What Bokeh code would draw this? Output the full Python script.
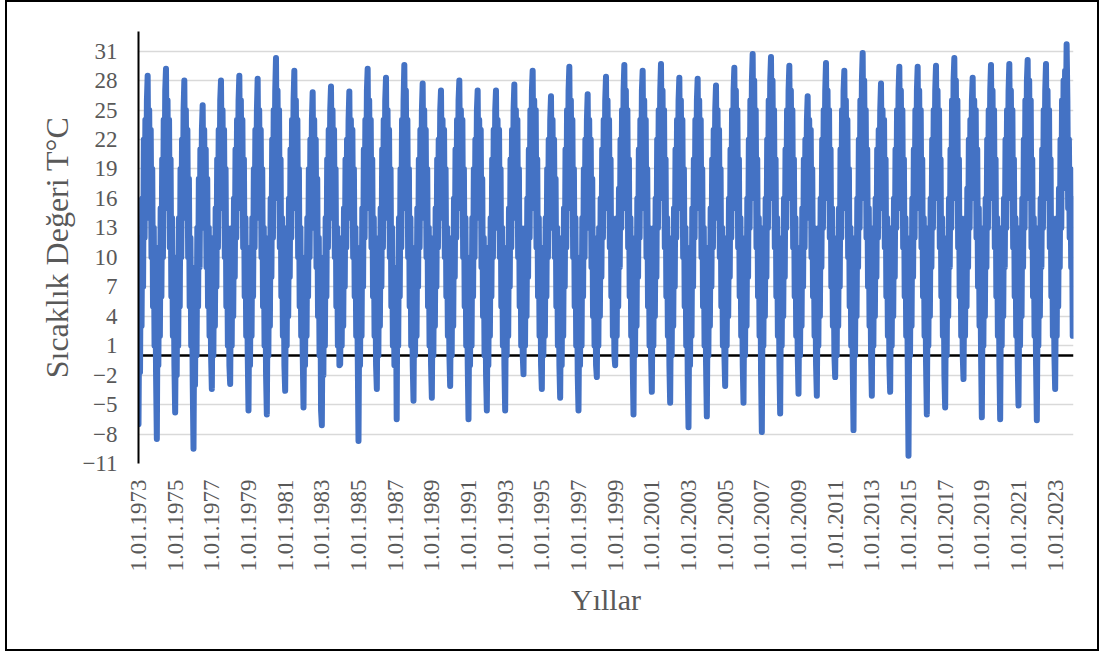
import math
from bokeh.plotting import figure
from bokeh.models import Range1d, FixedTicker, Span, ColumnDataSource
from bokeh.embed import file_html
from bokeh.resources import INLINE

# ---- data: two readings per month (1st / 2nd half), Jan..Dec ----
years = list(range(1973, 2024))
temps = [
    [-7.0, 5, -1.7, 12, 3, 16, 7, 22, 12, 24, 14, 26, 28.5, 17, 25, 14, 23, 10, 19, 5, 13, 1, 9, -2],   # 1973
    [-8.5, 6, -1, 11, 2, 15, 6, 20, 10, 24, 15, 27, 29.2, 18, 26, 15, 24, 11, 20, 6, 14, 2, 10, -1],     # 1974
    [-5.8, 5, -2, 10, 1, 14, 5, 19, 10, 22, 14, 25, 28.0, 16, 25, 14, 23, 10, 18, 5, 12, 1, 8, -3],      # 1975
    [-9.5, 4, -3, 9, 0, 13, 5, 18, 9, 21, 13, 23, 25.5, 15, 23, 13, 21, 9, 18, 5, 13, 2, 9, 0],          # 1976
    [-3.4, 7, 0, 12, 3, 15, 7, 20, 11, 23, 15, 26, 28.0, 17, 25, 15, 23, 10, 19, 5, 13, 1, 9, -1],       # 1977
    [-2.9, 8, 1, 13, 4, 16, 8, 21, 12, 24, 16, 26, 28.5, 18, 26, 15, 24, 11, 20, 6, 14, 2, 10, 0],       # 1978
    [-5.6, 6, -1, 11, 2, 14, 6, 19, 11, 23, 15, 25, 28.2, 17, 25, 14, 23, 10, 19, 5, 13, 1, 9, -2],      # 1979
    [-6.0, 6, 0, 12, 3, 16, 8, 22, 12, 25, 16, 27, 30.3, 18, 27, 16, 25, 11, 20, 6, 14, 2, 10, -1],      # 1980
    [-3.6, 7, 1, 13, 4, 16, 8, 21, 12, 24, 16, 26, 29.0, 18, 26, 15, 24, 10, 19, 5, 13, 2, 9, 0],        # 1981
    [-5.3, 5, -1, 10, 2, 14, 6, 19, 10, 22, 14, 24, 26.8, 16, 24, 13, 22, 9, 18, 4, 12, 0, 8, -5.6],     # 1982
    [-7.1, 5, -2, 10, 1, 14, 6, 20, 11, 23, 15, 25, 27.4, 17, 25, 14, 23, 10, 19, 5, 13, 1, 9, -1],      # 1983
    [-0.9, 7, 1, 12, 3, 15, 7, 20, 11, 22, 14, 24, 26.9, 16, 24, 14, 23, 10, 19, 6, 13, 2, 9, 0],        # 1984
    [-8.7, 5, -1, 11, 2, 15, 7, 21, 12, 24, 16, 27, 29.2, 18, 26, 15, 24, 11, 20, 6, 14, 2, 10, -1],     # 1985
    [-3.4, 7, 0, 12, 3, 15, 7, 21, 11, 24, 15, 26, 28.3, 17, 25, 14, 23, 10, 19, 5, 13, 1, 9, -1],       # 1986
    [2, 7, -6.5, 9, 1, 14, 6, 19, 11, 24, 16, 26, 29.6, 18, 27, 15, 24, 10, 19, 5, 14, 1, 9, -1],        # 1987
    [-4.6, 6, 0, 11, 2, 15, 7, 20, 11, 23, 15, 25, 27.7, 17, 25, 14, 23, 10, 19, 5, 13, 1, 9, -1],       # 1988
    [-4.3, 6, 0, 12, 3, 15, 7, 20, 11, 22, 15, 25, 27.0, 17, 24, 14, 23, 10, 19, 6, 13, 2, 9, 0],        # 1989
    [-3.1, 7, 0, 12, 3, 16, 8, 21, 12, 24, 16, 26, 28.0, 18, 25, 15, 24, 10, 19, 5, 14, 1, 9, -1],       # 1990
    [-6.5, 5, -1, 10, 1, 14, 6, 19, 10, 22, 14, 25, 27.0, 16, 24, 14, 23, 9, 18, 4, 12, 0, 8, -2],       # 1991
    [-5.6, 5, -1, 11, 2, 14, 6, 20, 10, 23, 14, 25, 27.0, 16, 24, 13, 23, 10, 19, 5, 13, 1, 9, -1],      # 1992
    [-5.6, 6, 0, 11, 2, 15, 7, 20, 11, 23, 15, 25, 27.6, 17, 25, 14, 24, 10, 19, 5, 13, 1, 9, 0],        # 1993
    [-1.9, 8, 1, 13, 4, 16, 8, 21, 12, 25, 16, 27, 29.0, 18, 26, 15, 25, 11, 20, 6, 14, 2, 10, -1],      # 1994
    [-3.4, 7, 0, 11, 2, 14, 6, 19, 10, 22, 14, 24, 26.4, 16, 24, 13, 22, 10, 18, 5, 13, 1, 9, -1],       # 1995
    [-4.3, 6, -1, 12, 2, 15, 7, 21, 11, 25, 16, 27, 29.4, 18, 26, 15, 24, 10, 19, 5, 14, 1, 9, -2],      # 1996
    [-5.6, 5, -1, 10, 1, 14, 6, 19, 10, 22, 14, 24, 26.6, 16, 24, 13, 22, 9, 18, 4, 12, 1, 8, -1],       # 1997
    [-2.2, 8, 1, 13, 4, 16, 8, 21, 12, 24, 16, 26, 28.4, 18, 26, 15, 24, 11, 20, 6, 14, 2, 10, 0],       # 1998
    [-1.0, 8, 2, 14, 5, 17, 9, 22, 13, 25, 16, 27, 29.6, 18, 27, 15, 25, 11, 20, 6, 14, 2, 10, -1],      # 1999
    [-6.0, 6, 0, 12, 3, 16, 8, 21, 12, 24, 16, 27, 29.0, 18, 26, 15, 24, 10, 19, 5, 13, 1, 9, 0],        # 2000
    [-3.7, 7, 1, 13, 4, 16, 8, 22, 13, 25, 17, 27, 29.7, 19, 27, 16, 25, 11, 20, 6, 14, 2, 10, -1],      # 2001
    [-4.8, 6, 0, 12, 3, 15, 7, 21, 12, 24, 16, 26, 28.3, 18, 26, 15, 24, 10, 19, 5, 13, 1, 9, -2],       # 2002
    [-7.3, 5, -1, 11, 2, 15, 7, 20, 12, 24, 16, 26, 28.2, 18, 26, 15, 24, 10, 19, 5, 13, 1, 9, -1],      # 2003
    [-6.2, 5, 0, 11, 3, 15, 7, 20, 11, 23, 15, 25, 27.5, 17, 25, 14, 23, 10, 19, 5, 13, 1, 9, 0],        # 2004
    [-3.1, 7, 1, 12, 4, 16, 8, 21, 12, 25, 16, 27, 29.3, 18, 27, 15, 25, 11, 20, 6, 14, 2, 10, -1],      # 2005
    [-4.8, 6, 0, 12, 3, 16, 8, 22, 13, 26, 17, 28, 30.7, 19, 28, 16, 25, 11, 20, 6, 14, 2, 10, -2],      # 2006
    [-7.8, 6, 1, 13, 4, 16, 8, 22, 13, 26, 17, 28, 30.4, 19, 28, 16, 25, 11, 20, 6, 14, 2, 10, -1],      # 2007
    [-5.9, 6, 1, 12, 4, 16, 8, 21, 13, 25, 16, 27, 29.5, 18, 27, 16, 25, 11, 20, 6, 14, 2, 10, 0],       # 2008
    [-3.9, 6, 0, 11, 3, 15, 7, 20, 11, 22, 15, 24, 26.4, 17, 24, 14, 23, 10, 19, 6, 13, 2, 9, -1],       # 2009
    [-4.1, 7, 1, 13, 4, 16, 9, 22, 13, 25, 17, 27, 29.8, 19, 27, 16, 25, 12, 21, 7, 15, 3, 10, 0],       # 2010
    [-2.2, 7, 0, 12, 3, 15, 7, 21, 12, 25, 16, 27, 29.0, 18, 26, 15, 24, 10, 19, 5, 13, 1, 9, -1],       # 2011
    [-7.6, 5, 0, 12, 4, 16, 9, 22, 13, 26, 17, 28, 30.8, 19, 28, 16, 25, 12, 21, 7, 15, 3, 10, 0],       # 2012
    [-4.1, 7, 1, 13, 4, 16, 8, 21, 12, 23, 16, 25, 27.7, 18, 25, 15, 24, 11, 20, 6, 14, 2, 10, -1],      # 2013
    [-3.7, 7, 1, 13, 4, 16, 8, 21, 13, 25, 16, 27, 29.4, 18, 27, 15, 25, 11, 20, 6, 14, 2, 10, -1],      # 2014
    [-10.2, 5, 0, 12, 3, 16, 8, 21, 12, 25, 16, 27, 29.4, 18, 27, 15, 25, 11, 20, 6, 14, 2, 10, -1],     # 2015
    [-6.0, 6, 1, 13, 4, 16, 9, 22, 13, 25, 17, 27, 29.5, 19, 27, 16, 25, 11, 20, 6, 14, 2, 9, -2],       # 2016
    [-5.3, 6, 0, 12, 4, 16, 9, 21, 13, 26, 17, 28, 30.3, 19, 28, 16, 26, 11, 20, 6, 14, 2, 10, 0],       # 2017
    [-2.4, 8, 2, 14, 5, 17, 9, 22, 13, 24, 17, 26, 28.3, 19, 26, 16, 25, 12, 21, 7, 15, 3, 10, 0],       # 2018
    [-6.3, 6, 1, 13, 4, 16, 9, 22, 13, 25, 17, 27, 29.6, 19, 27, 16, 25, 11, 20, 6, 14, 2, 10, -1],      # 2019
    [-6.5, 6, 1, 13, 4, 16, 9, 22, 13, 25, 17, 27, 29.7, 19, 27, 16, 25, 11, 20, 6, 14, 2, 10, -1],      # 2020
    [-5.1, 6, 1, 13, 4, 16, 9, 22, 13, 26, 17, 28, 30.1, 19, 28, 16, 26, 11, 20, 6, 14, 2, 10, -1],      # 2021
    [-6.6, 5, 1, 13, 4, 16, 9, 21, 13, 25, 17, 27, 29.7, 19, 27, 16, 25, 11, 20, 6, 14, 2, 10, 0],       # 2022
    [-3.4, 8, 2, 14, 5, 17, 9, 22, 13, 26, 17, 28, 20, 29, 24, 31.7, 26, 15, 22, 12, 19, 9, 16, 2.0],    # 2023
]
last_value_jan_2024 = 11

y_ticks = [-11, -8, -5, -2, 1, 4, 7, 10, 13, 16, 19, 22, 25, 28, 31]
x_tick_years = list(range(1973, 2024, 2))
x_tick_labels = [f"1.01.{y}" for y in x_tick_years]

# ---- build series (24 readings per year) ----
xs, ys = [], []
for yr, vals in zip(years, temps):
    n = len(vals)
    for k, v in enumerate(vals):
        xs.append(yr + k / n)
        ys.append(v)
xs.append(2024.0)
ys.append(last_value_jan_2024)
src = ColumnDataSource(dict(x=xs, y=ys))

FONT = "Liberation Serif"
GREY = "#595959"

p = figure(width=1090, height=647, output_backend="svg", toolbar_location=None,
           x_range=Range1d(1973, 2024), y_range=Range1d(-11, 33),
           min_border_left=131, min_border_right=24, min_border_top=29,
           min_border_bottom=186)
p.margin = (2, 0, 0, 7)
p.styles = {"outline": "2px solid #000000"}
p.outline_line_color = None
p.background_fill_color = "white"
p.border_fill_color = "white"

p.xgrid.grid_line_color = None
p.ygrid.grid_line_color = "#D9D9D9"
p.ygrid.grid_line_width = 1.3
p.yaxis.ticker = FixedTicker(ticks=y_ticks)
p.xaxis.ticker = FixedTicker(ticks=x_tick_years)
p.xaxis.major_label_overrides = {y: l for y, l in zip(x_tick_years, x_tick_labels)}
p.xaxis.major_label_orientation = math.pi / 2

p.add_layout(Span(location=0, dimension="width", line_color="black",
                  line_width=2.5, level="underlay"))

p.line("x", "y", source=src, line_color="#4472C4", line_width=6,
       line_join="round", line_cap="round")

for ax in (p.xaxis[0], p.yaxis[0]):
    ax.major_tick_line_color = None
    ax.minor_tick_line_color = None
    ax.major_label_text_font = FONT
    ax.major_label_text_font_size = "23px"
    ax.major_label_text_color = GREY
    ax.axis_label_text_font = FONT
    ax.axis_label_text_font_size = "30px"
    ax.axis_label_text_font_style = "normal"
    ax.axis_label_text_color = GREY

p.xaxis.axis_line_color = None
p.xaxis.major_label_standoff = 10
p.xaxis.axis_label = "Yıllar"
p.xaxis.axis_label_standoff = 8

p.yaxis.axis_line_color = "black"
p.yaxis.axis_line_width = 2
p.yaxis.major_label_standoff = 15
p.yaxis.axis_label = "Sıcaklık Değeri T°C"
p.yaxis.axis_label_text_font_size = "32px"
p.yaxis.axis_label_standoff = 4

open("out.html", "w").write(file_html(p, INLINE))
